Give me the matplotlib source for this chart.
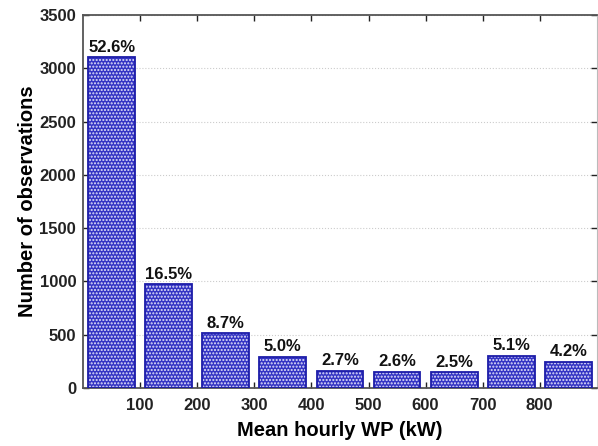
import matplotlib
matplotlib.use("Agg")
from matplotlib import pyplot as plt

plt.rcParams['font.family'] = ['Liberation Sans', 'DejaVu Sans']
plt.rcParams['font.weight'] = 'bold'
plt.rcParams['hatch.linewidth'] = 1.0

bin_centers = [50, 150, 250, 350, 450, 550, 650, 750, 850]
counts = [3103, 973, 513, 295, 159, 153, 147, 301, 248]
percent_labels = ['52.6%', '16.5%', '8.7%', '5.0%', '2.7%', '2.6%', '2.5%', '5.1%', '4.2%']
x_ticks = [100, 200, 300, 400, 500, 600, 700, 800]

fig = plt.figure(figsize=(5.98, 4.46), dpi=100)
ax = fig.add_axes([0.139, 0.13, 0.859, 0.836])

# blue bars with fine white dot pattern, then dark blue outline on top
ax.bar(bin_centers, counts, width=82, color='#3434c4', edgecolor='#e4e4fa',
       hatch='.....', linewidth=0, zorder=2)
ax.bar(bin_centers, counts, width=82, fill=False, edgecolor='#1c1ca8',
       linewidth=1.3, zorder=3)

for x, c, lab in zip(bin_centers, counts, percent_labels):
    ax.text(x, c + 25, lab, ha='center', va='bottom', fontsize=12,
            fontweight='bold', color='#111111')

ax.set_xlim(0, 900)
ax.set_ylim(0, 3500)
ax.set_xticks(x_ticks)
ax.set_yticks(range(0, 3501, 500))
ax.yaxis.grid(True, linestyle=':', color='#cccccc', linewidth=0.8, zorder=0)
ax.set_axisbelow(True)

ax.tick_params(direction='in', top=True, right=True, length=4, width=1,
               labelsize=12, colors='#222222', pad=7)
ax.tick_params(axis='y', pad=5)
for s in ['left', 'bottom', 'top']:
    ax.spines[s].set_color('#555555')
    ax.spines[s].set_linewidth(1.3)
ax.spines['right'].set_color('#bbbbbb')

ax.set_xlabel('Mean hourly WP (kW)', fontsize=14.5, fontweight='bold', labelpad=6)
ax.set_ylabel('Number of observations', fontsize=14.5, fontweight='bold', labelpad=2)

fig.savefig('out.png', dpi=100)
